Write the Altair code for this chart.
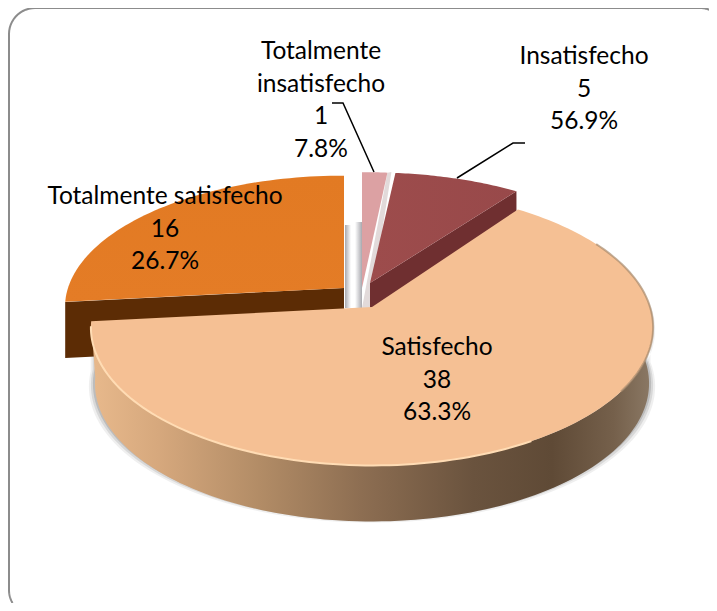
import numpy as np
import pandas as pd
import altair as alt

categories = ["Totalmente insatisfecho", "Insatisfecho", "Satisfecho", "Totalmente satisfecho"]
counts = [1, 5, 38, 16]
pct_labels = ["7.8%", "56.9%", "63.3%", "26.7%"]
label_lines = [["Totalmente", "insatisfecho", "1", "7.8%"],
               ["Insatisfecho", "5", "56.9%"],
               ["Satisfecho", "38", "63.3%"],
               ["Totalmente satisfecho", "16", "26.7%"]]
label_x = [321, 584, 437, 165]
label_y0 = [52, 57, 348, 197]
line_gap = 32.5
centers = [(362, 288), (370, 283), (372, 307), (344, 288)]
RX, RY, K, DEPTH = 279, 133, 0.148, 56

cum = np.cumsum([0] + counts) / sum(counts) * 360
X = alt.X("x:Q", scale=alt.Scale(domain=[8, 709], nice=False, zero=False), axis=None)
Y = alt.Y("y:Q", scale=alt.Scale(domain=[603, 8], nice=False, zero=False), axis=None)


def rim(c, a0, a1, n=90, ry=RY, dy=0, rx=RX):
    t = np.radians(np.linspace(a0, a1, n))
    u, v = np.sin(t), -np.cos(t)
    s = 1 / (1 - K * v)
    return list(zip(c[0] + rx * u * s, c[1] + ry * v * s + dy))


def poly(pts, fill, opacity=1.0):
    d = pd.DataFrame(pts, columns=["x", "y"]).reset_index()
    return alt.Chart(d).mark_line(fill=fill, stroke=None, strokeWidth=0, interpolate="linear-closed",
                                  opacity=opacity).encode(x=X, y=Y, order="index:Q")


def grad(stops, horizontal=True):
    return alt.LinearGradient(gradient="linear",
                              stops=[alt.GradientStop(color=c, offset=o) for o, c in stops],
                              x1=0, y1=0, x2=1 if horizontal else 0, y2=0 if horizontal else 1)


def line(pts, color, width, opacity=1.0):
    d = pd.DataFrame(pts, columns=["x", "y"]).reset_index()
    return alt.Chart(d).mark_line(color=color, strokeWidth=width, opacity=opacity).encode(x=X, y=Y, order="index:Q")


def corner(cx, cy, r, a0, a1, n=14):
    t = np.radians(np.linspace(a0, a1, n))
    return list(zip(cx + r * np.cos(t), cy + r * np.sin(t)))


layers = []
# frame: the picture shows only its left and top sides
frame = corner(35, 590, 26, 150, 180) + corner(35, 34, 26, 180, 270) + corner(700, 34, 26, 270, 291)
layers.append(line(frame, "#8c8c8c", 2))

# soft shadows behind the pieces
layers.append(poly([(345, 225), (351, 225), (351, 308), (345, 308)], grad([(0, "#a8a8ae"), (1, "#ffffff")])))
layers.append(poly([(355, 222), (362, 222), (362, 308), (355, 308)], grad([(0, "#ffffff"), (1, "#a8a8ae")])))
for grow, op in [(5, 0.10), (3, 0.16), (1, 0.25)]:
    c = centers[2]
    top = rim(c, 88, 268, rx=RX + grow - 4, dy=grow * 0.5)
    bot = rim(c, 268, 88, rx=RX + grow - 4, dy=DEPTH + grow * 0.7)
    layers.append(poly(top + bot, "#666666", op))

# Totalmente insatisfecho
c = centers[0]
a0, a1 = cum[0], cum[1]
layers.append(poly([rim(c, a1, a1, 1)[0], (rim(c, a1, a1, 1)[0][0] + 4, c[1] - 116), (c[0] + 8, c[1] + 20), (c[0], c[1] + 20)], "#e2dada"))
layers.append(poly([c] + rim(c, a0, a1, 12), "#dca1a3"))

# Insatisfecho
c = centers[1]
a0, a1 = cum[1], cum[2]
p = rim(c, a1, a1, 1, ry=127)[0]
layers.append(poly([c, p, (p[0], p[1] + DEPTH), (c[0], c[1] + DEPTH)], "#6f2f30"))
layers.append(poly([c] + rim(c, a0, a1, 40, ry=127), grad([(0, "#9d4c4c"), (1, "#98494a")])))

# Totalmente satisfecho
c = centers[3]
a0, a1 = cum[3], cum[4]
p = rim(c, a0, a0, 1, rx=276)[0]
layers.append(poly([c, p, (p[0], p[1] + DEPTH), (c[0], c[1] + DEPTH)], "#5c2c05"))
layers.append(poly([c] + rim(c, a0, a1, 60, ry=129, rx=276), grad([(0, "#e27a23"), (1, "#e47c26")], False)))

# Satisfecho
c = centers[2]
a0, a1 = cum[2], cum[3]
wall_top = rim(c, 88, a1, 120, ry=135, rx=278)
wall_bot = rim(c, a1, 88, 120, dy=DEPTH, ry=135, rx=274)
layers.append(poly(wall_top + wall_bot, grad([(0, "#e8b98c"), (0.12, "#d6a87d"), (0.3, "#b28c66"), (0.48, "#8d6e52"),
                                             (0.68, "#6a533e"), (0.82, "#5f4a36"), (0.93, "#75604b"), (1, "#8c7a66")])))
layers.append(poly([c] + rim(c, a0, a1, 160, ry=135, rx=278), "#f5c094"))
layers.append(line(rim(c, 150, 262, 80, ry=135, rx=278), "#ffdcb4", 2))
layers.append(line(rim(c, 60, 125, 50, ry=135, rx=278), "#a88a6c", 2, 0.7))

# leader lines
layers.append(line([(332, 103), (343, 103), (374, 172)], "#000000", 1.5))
layers.append(line([(525, 143), (513, 143), (457, 178)], "#000000", 1.5))

# labels
rows = []
for lines, lx, ly in zip(label_lines, label_x, label_y0):
    for i, t in enumerate(lines):
        rows.append({"x": lx, "y": ly + i * line_gap, "t": t})
layers.append(alt.Chart(pd.DataFrame(rows)).mark_text(font="Lato", fontSize=24.5, color="#000000", align="center", baseline="middle")
              .encode(x=X, y=Y, text="t:N"))

chart = (alt.layer(*layers)
         .properties(width=701, height=595, padding=0, background="#ffffff",
                     autosize=alt.AutoSizeParams(type="none"))
         .configure_view(stroke=None, fill="#ffffff"))
chart.save("out.html", embed_options={"renderer": "svg", "actions": False})
